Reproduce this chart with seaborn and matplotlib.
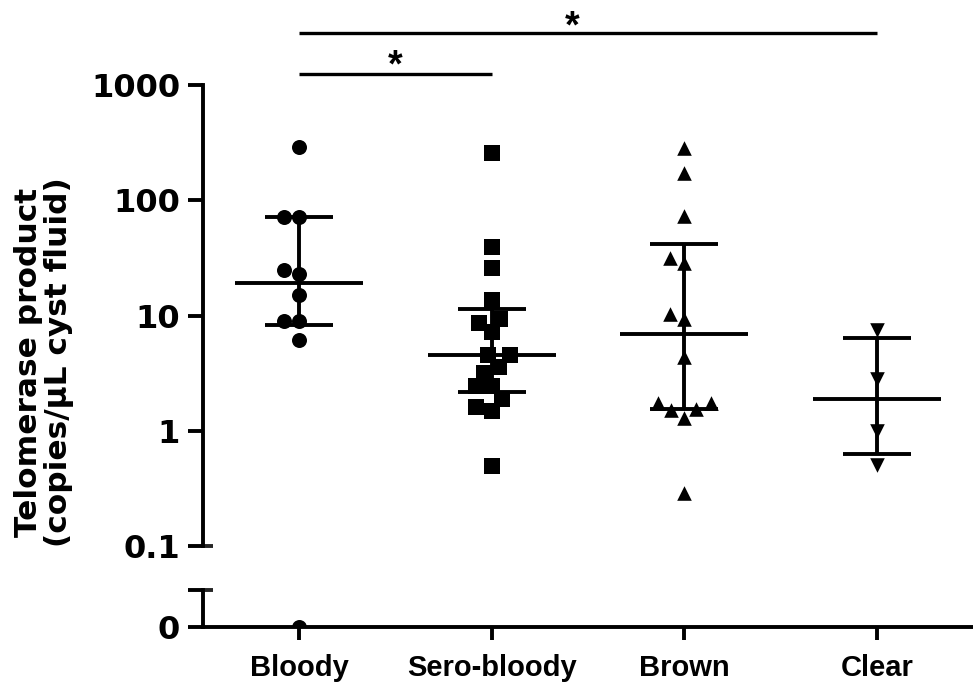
import numpy as np
import pandas as pd
import matplotlib
matplotlib.use("Agg")
import matplotlib.pyplot as plt
from matplotlib.ticker import FixedLocator, NullFormatter, FuncFormatter
from matplotlib.transforms import blended_transform_factory
import seaborn as sns

# Telomerase product per cyst-fluid type (copies/uL); 0 = undetectable
categories = ["Bloody", "Sero-bloody", "Brown", "Clear"]
bloody = [290, 72, 72, 25, 23, 15, 9.0, 9.0, 6.1, 0]
sero_bloody = [258, 39, 26, 13.6, 9.4, 8.6, 7.2, 4.5, 4.5, 3.6, 3.2,
               2.45, 2.45, 1.87, 1.62, 1.49, 0.49]
brown = [282, 171, 73, 31.8, 28.4, 10.4, 9.3, 4.4, 1.73, 1.73, 1.55,
         1.51, 1.30, 0.286]
clear = [7.5, 2.8, 1.0, 0.5]
groups = [bloody, sero_bloody, brown, clear]

# significance brackets: (left group, right group, label)
comparisons = [(0, 1, "*"), (0, 3, "*")]

markers = ["o", "s", "^", "v"]
marker_sizes = [10.8, 11.0, 10.5, 10.5]

sns.set_theme(style="ticks")
plt.rcParams["font.family"] = ["Liberation Sans", "DejaVu Sans"]
plt.rcParams["font.weight"] = "bold"
plt.rcParams["text.color"] = "black"
plt.rcParams["axes.labelcolor"] = "black"
WIDE = ["DejaVu Sans"]

W, H = 973, 691
fig = plt.figure(figsize=(W / 100, H / 100), dpi=100)
ax = fig.add_axes([203 / W, 1 - 546 / H, 770 / W, 461 / H])
axb = fig.add_axes([203 / W, 1 - 627 / H, 770 / W, 37 / H])

LW = 2.8

# scatter of the positive values on the log panel
for cat, vals, m, s in zip(categories, groups, markers, marker_sizes):
    v = np.asarray(vals, float)
    df = pd.DataFrame({"group": cat, "value": v[v > 0]})
    sns.swarmplot(data=df, x="group", y="value", order=categories,
                  marker=m, size=s, color="black", linewidth=0,
                  ax=ax, log_scale=(False, True), zorder=3)

# median with interquartile range
for i, vals in enumerate(groups):
    v = np.asarray(vals, float)
    med = np.median(v)
    q1, q3 = np.percentile(v, [25, 75], method="weibull")
    ax.hlines(med, i - 0.333, i + 0.333, color="black", lw=LW, zorder=5)
    ax.hlines([q1, q3], i - 0.177, i + 0.177, color="black", lw=LW, zorder=5)
    ax.vlines(i, q1, q3, color="black", lw=LW, zorder=5)

ax.set_yscale("log")
ax.set_ylim(0.1, 1000)
ax.set_xlim(-0.5, 3.5)
ax.yaxis.set_major_locator(FixedLocator([0.1, 1, 10, 100, 1000]))
ax.yaxis.set_major_formatter(FuncFormatter(lambda y, _: f"{y:g}"))
ax.yaxis.set_minor_locator(FixedLocator([0.1]))
ax.yaxis.set_minor_formatter(NullFormatter())
ax.yaxis.remove_overlapping_locs = False
ax.tick_params(axis="y", which="major", direction="out", length=10.5,
               width=LW, pad=6, colors="black")
ax.tick_params(axis="y", which="minor", direction="in", length=7, width=LW)
ax.tick_params(axis="x", which="both", bottom=False, labelbottom=False)
for sp in ["top", "right", "bottom"]:
    ax.spines[sp].set_visible(False)
ax.spines["left"].set_linewidth(LW)
ax.spines["left"].set_color("black")
ax.set_xlabel("")
ax.set_ylabel("")

# zero values on the lower panel, below the axis break
zero_groups = [c for c, vals in zip(categories, groups) for v in vals if v == 0]
zeros = pd.DataFrame({"group": zero_groups, "value": [0.0] * len(zero_groups)})
sns.stripplot(data=zeros, x="group", y="value", order=categories,
              jitter=False, marker="o", size=marker_sizes[0],
              color="black", linewidth=0, ax=axb)
axb.set_ylim(0, 1)
axb.set_xlim(-0.5, 3.5)
axb.yaxis.set_major_locator(FixedLocator([0, 1]))
axb.yaxis.set_major_formatter(FuncFormatter(lambda y, _: "0" if y == 0 else ""))
axb.yaxis.set_minor_locator(FixedLocator([1]))
axb.yaxis.set_minor_formatter(NullFormatter())
axb.yaxis.remove_overlapping_locs = False
axb.tick_params(axis="y", which="major", direction="out", length=10.5,
                width=LW, pad=6, colors="black")
axb.tick_params(axis="y", which="minor", direction="in", length=7, width=LW)
axb.tick_params(axis="x", direction="out", length=9.5, width=LW,
                labelsize=21, pad=10, colors="black")
for sp in ["top", "right"]:
    axb.spines[sp].set_visible(False)
for sp in ["left", "bottom"]:
    axb.spines[sp].set_linewidth(LW)
    axb.spines[sp].set_color("black")
axb.set_xlabel("")
axb.set_ylabel("")
for lab in axb.get_xticklabels():
    lab.set_fontweight("bold")

# y tick labels in a wide heavy face
for a in (ax, axb):
    for lab in a.get_yticklabels():
        lab.set_fontfamily(WIDE)
        lab.set_fontweight("bold")
        lab.set_fontsize(23)

# y axis title spanning both panels
fig.text(44 / W, 1 - 362 / H, "Telomerase product\n(copies/\u03bcL cyst fluid)",
         rotation=90, ha="center", va="center", fontsize=22.5,
         family=WIDE, fontweight="bold", linespacing=1.08, color="black")

# significance brackets
trans = blended_transform_factory(ax.transData, ax.transAxes)
bracket_y = [1.0239, 1.1128]
star_pos = [(0.5, 1.040), (1.42, 1.125)]
for (a, b, txt), yb, (sx, sy) in zip(comparisons, bracket_y, star_pos):
    ax.plot([a, b], [yb, yb], color="black", lw=2.4, transform=trans,
            clip_on=False, solid_capstyle="butt")
    ax.text(sx, sy, txt, transform=trans, ha="center", va="center",
            fontsize=27, fontweight="bold", color="black")

fig.savefig("out.png", dpi=100)
